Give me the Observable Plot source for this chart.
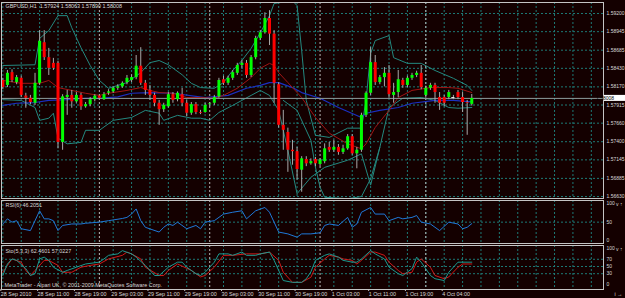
<!DOCTYPE html>
<html><head><meta charset="utf-8">
<script src="https://cdn.jsdelivr.net/npm/d3@7"></script>
<script src="https://cdn.jsdelivr.net/npm/@observablehq/plot@0.6"></script>
<style>
html,body{margin:0;padding:0;background:#140000;}
#chart{position:relative;width:625px;height:298px;background:#140000;overflow:hidden;}
#chart svg{position:absolute;left:0;}
</style></head><body><div id="chart"></div>
<script>
// ---- candle data (GBPUSD H1, bar index 0 = 28 Sep 03:00) ----
const barOpen = [1.5826,1.5819,1.5837,1.5823,1.5829,1.5804,1.5801,1.5794,1.5822,1.5879,
1.5858,1.5850,1.5850,1.5739,1.5802,1.5805,1.5796,1.5805,1.5789,1.5792,
1.5799,1.5804,1.5799,1.5808,1.5810,1.5815,1.5817,1.5823,1.5826,1.5830,
1.5846,1.5822,1.5812,1.5805,1.5794,1.5785,1.5789,1.5806,1.5799,1.5806,
1.5794,1.5780,1.5792,1.5781,1.5781,1.5792,1.5794,1.5803,1.5827,1.5822,
1.5829,1.5836,1.5847,1.5850,1.5833,1.5858,1.5885,1.5893,1.5913,1.5891,
1.5820,1.5763,1.5753,1.5728,1.5726,1.5700,1.5715,1.5709,1.5715,1.5708,
1.5712,1.5732,1.5728,1.5732,1.5725,1.5730,1.5747,1.5723,1.5728,1.5777,
1.5808,1.5851,1.5823,1.5830,1.5836,1.5805,1.5809,1.5826,1.5819,1.5829,
1.5833,1.5836,1.5805,1.5815,1.5819,1.5802,1.5802,1.5802,1.5802,1.5809,
1.5802,1.5795,1.57924];
const barHigh = [1.5829,1.5840,1.5841,1.5833,1.5832,1.5808,1.5805,1.5836,1.5896,1.5896,
1.5871,1.5857,1.5853,1.5806,1.5812,1.5812,1.5809,1.5808,1.5795,1.5802,
1.5806,1.5806,1.5809,1.5813,1.5817,1.5820,1.5824,1.5833,1.5834,1.5861,
1.5872,1.5826,1.5819,1.5808,1.5798,1.5794,1.5809,1.5809,1.5810,1.5815,
1.5798,1.5795,1.5795,1.5784,1.5794,1.5795,1.5805,1.5829,1.5832,1.5832,
1.5840,1.5850,1.5854,1.5854,1.5861,1.5888,1.5896,1.5921,1.5924,1.5896,
1.5823,1.5784,1.5759,1.5742,1.5732,1.5719,1.5719,1.5716,1.5718,1.5716,
1.5737,1.5739,1.5742,1.5736,1.5735,1.5750,1.5750,1.5732,1.5780,1.5810,
1.5872,1.5861,1.5833,1.5844,1.5847,1.5822,1.5840,1.5829,1.5832,1.5836,
1.5839,1.5847,1.5818,1.5822,1.5822,1.5809,1.5805,1.5812,1.5805,1.5812,
1.5809,1.5798,1.58063];
const barLow = [1.5813,1.5816,1.5823,1.5820,1.5802,1.5787,1.5792,1.5791,1.5819,1.5854,
1.5833,1.5840,1.5730,1.5728,1.5777,1.5787,1.5794,1.5784,1.5787,1.5789,
1.5796,1.5798,1.5798,1.5805,1.5808,1.5812,1.5815,1.5820,1.5823,1.5827,
1.5819,1.5805,1.5798,1.5789,1.5763,1.5781,1.5787,1.5794,1.5796,1.5789,
1.5775,1.5777,1.5778,1.5778,1.5780,1.5789,1.5791,1.5801,1.5819,1.5819,
1.5826,1.5833,1.5843,1.5829,1.5830,1.5855,1.5882,1.5891,1.5875,1.5794,
1.5759,1.5728,1.5697,1.5707,1.5686,1.5669,1.5705,1.5707,1.5705,1.5705,
1.5709,1.5725,1.5725,1.5721,1.5722,1.5728,1.5721,1.5702,1.5725,1.5774,
1.5805,1.5819,1.5820,1.5817,1.5801,1.5794,1.5802,1.5815,1.5816,1.5826,
1.5830,1.5813,1.5801,1.5812,1.5794,1.5784,1.5789,1.5799,1.5799,1.5799,
1.5781,1.5749,1.5790];
const barClose = [1.5816,1.5836,1.5826,1.5830,1.5805,1.5801,1.5795,1.5822,1.5881,1.5858,
1.5843,1.5843,1.5739,1.5803,1.5805,1.5796,1.5805,1.5789,1.5792,1.5799,
1.5804,1.5801,1.5806,1.5810,1.5815,1.5817,1.5822,1.5829,1.5830,1.5846,
1.5822,1.5812,1.5805,1.5794,1.5785,1.5791,1.5806,1.5798,1.5808,1.5794,
1.5780,1.5792,1.5781,1.5780,1.5791,1.5793,1.5802,1.5826,1.5822,1.5829,
1.5837,1.5847,1.5850,1.5833,1.5858,1.5885,1.5893,1.5913,1.5891,1.5822,
1.5763,1.5756,1.5728,1.5726,1.5701,1.5716,1.5709,1.5712,1.5709,1.5714,
1.5730,1.5728,1.5732,1.5725,1.5730,1.5747,1.5723,1.5728,1.5777,1.5808,
1.5851,1.5823,1.5830,1.5836,1.5806,1.5809,1.5827,1.5819,1.5829,1.5833,
1.5836,1.5816,1.5815,1.5819,1.5809,1.5794,1.5794,1.5809,1.5802,1.5802,
1.5795,1.5794,1.58008];

// ---- overlays (bar index, price) ----
const upperBars = [0,7,8,10,12,14,15,17,19,21,23,27,30,32,34,36,39,41,43,46,48,50,52,54,56,58,59,63,64,65,66,68,71,75,78,79,80,81,84,85,88,91,94,98,101,102];
const upperVals = [1.5847,1.5848,1.5885,1.5896,1.5917,1.5917,1.5900,1.5872,1.5847,1.5826,1.5815,1.5823,1.5837,1.5851,1.5854,1.5848,1.5834,1.5822,1.5816,1.5815,1.5823,1.5840,1.5854,1.5871,1.5893,1.5917,1.5934,1.5938,1.5931,1.5868,1.5798,1.5749,1.5746,1.5759,1.5759,1.5798,1.5864,1.5882,1.5889,1.5858,1.5850,1.5850,1.5840,1.5829,1.5819,1.5812];
const lowerBars = [0,4,7,8,10,11,12,14,17,18,21,24,28,31,34,35,38,41,43,45,47,50,52,54,56,58,60,62,64,67,70,75,78,80,82,84,87,91,94,97,99,102];
const lowerVals = [1.5799,1.5798,1.5788,1.5770,1.5773,1.5780,1.5745,1.5737,1.5739,1.5756,1.5756,1.5770,1.5774,1.5784,1.5780,1.5770,1.5777,1.5773,1.5773,1.5770,1.5781,1.5791,1.5798,1.5805,1.5812,1.5805,1.5784,1.5728,1.5667,1.5690,1.5704,1.5714,1.5723,1.5679,1.5732,1.5788,1.5801,1.5802,1.5798,1.5788,1.5787,1.5788];
const lowerLongBars = [61,64,67,68,69,70,75,78,80,82];
const lowerLongVals = [1.5798,1.5784,1.5742,1.5704,1.5676,1.5662,1.5660,1.5663,1.5688,1.5732];
const redMaBars = [0,4,8,10,12,15,18,21,23,27,30,32,34,37,40,43,46,48,51,54,56,58,59,60,62,65,68,71,75,78,79,81,84,86,89,93,97,99,102];
const redMaVals = [1.5826,1.5822,1.5822,1.5826,1.5816,1.5812,1.5808,1.5805,1.5808,1.5812,1.5816,1.5812,1.5809,1.5808,1.5802,1.5802,1.5801,1.5805,1.5815,1.5830,1.5843,1.5850,1.5847,1.5837,1.5823,1.5802,1.5774,1.5752,1.5737,1.5730,1.5737,1.5760,1.5784,1.5802,1.5812,1.5816,1.5816,1.5815,1.5809];
const blueMaBars = [0,3,7,10,14,18,21,25,28,32,37,44,49,53,56,58,60,63,65,69,73,78,79,82,86,89,94,98,102];
const blueMaVals = [1.5791,1.5794,1.5795,1.5798,1.5799,1.5801,1.5801,1.5803,1.5808,1.5809,1.5808,1.5802,1.5805,1.5815,1.5819,1.5823,1.5823,1.5816,1.5809,1.5801,1.5788,1.5774,1.5780,1.5784,1.5788,1.5794,1.5798,1.5798,1.5796];

// ---- oscillators ----
const rsiBars = [0,1,2,3,4,6,8,9,10,11,12,13,15,17,18,21,23,26,27,28,29,30,31,34,35,36,37,38,40,42,43,44,46,48,50,52,53,55,57,58,60,62,64,65,67,69,70,71,73,75,76,77,78,80,81,83,84,86,87,89,90,91,93,95,97,99,100,101,102];
const rsiVals = [45,59,50,54,32,27,81,59,59,54,27,41,45,45,47,50,54,60,63,72,86,54,36,23,36,45,41,50,32,41,32,50,54,72,77,81,59,81,90,77,23,18,9,18,18,21,41,45,41,63,36,45,77,90,72,72,54,63,59,63,68,50,45,27,50,45,32,36,46];
const stoMainBars = [0,1,2,3,5,6,7,8,9,10,11,13,14,16,18,21,22,23,25,26,28,29,31,33,34,36,38,39,40,42,43,44,46,47,49,50,52,53,55,56,58,59,60,61,63,65,66,67,68,70,71,73,74,76,77,78,80,81,83,84,86,87,89,90,91,93,94,96,97,99,100,102];
const stoMainVals = [25,57,71,67,44,25,30,71,76,67,48,34,39,48,57,62,71,81,85,94,85,76,53,25,25,48,62,62,48,30,25,34,62,85,85,81,90,81,81,85,90,67,39,11,6,6,16,35,67,81,85,76,67,62,62,71,94,85,71,48,30,25,44,76,62,25,16,11,34,62,62,62];
const stoSigBars = [0,1,2,4,5,6,7,9,10,12,13,15,17,19,21,23,26,27,28,30,31,34,35,36,38,41,43,44,46,48,50,53,56,58,60,61,63,65,67,68,70,71,73,74,76,77,78,80,81,83,84,86,87,89,90,91,93,94,96,97,99,100,102];
const stoSigVals = [34,53,71,62,39,25,39,67,67,53,34,34,48,53,57,71,81,90,85,71,48,25,25,39,57,39,21,25,48,81,81,85,85,90,67,34,6,6,20,48,71,81,76,71,67,57,67,90,90,81,62,39,30,34,62,71,48,25,16,21,48,57,57];

// ---- axes / labels ----
const priceTicks = [1.59200,1.58945,1.58685,1.58430,1.58170,1.57915,1.57660,1.57400,1.57145,1.56885,1.56630];
const timeLabels = ["28 Sep 2010","28 Sep 11:00","28 Sep 19:00","29 Sep 03:00","29 Sep 11:00","29 Sep 19:00","30 Sep 03:00","30 Sep 11:00","30 Sep 19:00","1 Oct 03:00","1 Oct 11:00","1 Oct 19:00","4 Oct 04:00"];
const timeBars = [0,8,16,24,32,40,48,56,64,72,80,88,96];
const daySepBars = [21,45,69,92];
const rsiTicks = [100,50,0];
const stoTicks = [100,70,50,30,0];
const titleText = "GBPUSD,H1  1.57924 1.58063 1.57890 1.58008";
const lastClose = 1.58008;

// ---- build ----
const bars = barOpen.map((o,i)=>({i, open:o, high:barHigh[i], low:barLow[i], close:barClose[i]}));
const pts = (b,v)=>b.map((x,k)=>({i:x, v:v[k]}));
const XD = [-0.29, 130.65];
const gridBars = d3.range(0, 131, 4);
const FONT = "Liberation Sans, Arial, sans-serif";
const TXT = "#d8d8d8", GRID = "#1d7a76", SEP = "#b8b8b8", FRAME = "#c4c4c4", BAND = "#23887f";
const base = (h, mt, mb) => ({width:625, height:h, marginLeft:1, marginRight:22, marginTop:mt, marginBottom:mb,
  style:{background:"transparent", color:TXT, fontFamily:FONT, fontSize:"5px", overflow:"visible"},
  x:{domain:XD, axis:null}});
const vgrid = () => [
  Plot.ruleX(gridBars, {stroke:GRID, strokeDasharray:"2,2", strokeWidth:1}),
  Plot.ruleX(daySepBars, {stroke:SEP, strokeDasharray:"2,2", strokeWidth:1})
];

const main = Plot.plot({
  ...base(199, 2, 1),
  y:{domain:[1.566026, 1.593544], axis:null},
  marks:[
    Plot.ruleY(priceTicks, {stroke:GRID, strokeDasharray:"2,2"}),
    ...vgrid(),
    Plot.line(pts(upperBars, upperVals), {x:"i", y:"v", stroke:BAND, strokeWidth:1, clip:true}),
    Plot.line(pts(lowerBars, lowerVals), {x:"i", y:"v", stroke:BAND, strokeWidth:1, clip:true}),
    Plot.line(pts(lowerLongBars, lowerLongVals), {x:"i", y:"v", stroke:BAND, strokeWidth:1, clip:true}),
    Plot.line(pts(blueMaBars, blueMaVals), {x:"i", y:"v", stroke:"#1a2fc0", strokeWidth:1.2, clip:true}),
    Plot.line(pts(redMaBars, redMaVals), {x:"i", y:"v", stroke:"#a01414", strokeWidth:1, clip:true}),
    Plot.ruleY([lastClose], {stroke:"#8c9c9c", strokeWidth:1}),
    Plot.ruleX(bars, {x:"i", y1:"low", y2:"high", stroke:"#a8a8a8", strokeWidth:1, clip:true}),
    Plot.ruleX(bars.filter(d=>d.close>=d.open), {x:"i", y1:"open", y2:"close", stroke:"#00ff00", strokeWidth:3}),
    Plot.ruleX(bars.filter(d=>d.close<d.open), {x:"i", y1:"open", y2:"close", stroke:"#ff0000", strokeWidth:3}),
    Plot.ruleY(bars.filter(d=>Math.abs(d.close-d.open)<0.00008), {y:"close", x1:d=>d.i-0.35, x2:d=>d.i+0.35, stroke:"#e8e8e8"}),
    Plot.axisY({anchor:"right", ticks:priceTicks, tickFormat:d3.format(".5f"), tickSize:0, tickPadding:3, fill:TXT}),
    Plot.frame({stroke:FRAME}),
    Plot.text([titleText], {frameAnchor:"top-left", dx:4, dy:2, textAnchor:"start", lineAnchor:"top", fill:TXT, fontSize:5.4})
  ]
});
main.style.top = "0px";

const rsi = Plot.plot({
  ...base(45, 1, 1),
  y:{domain:[-8.2, 109], axis:null},
  marks:[
    Plot.ruleY([50], {stroke:GRID, strokeDasharray:"2,2"}),
    ...vgrid(),
    Plot.line(pts(rsiBars, rsiVals), {x:"i", y:"v", stroke:"#1f78d8", strokeWidth:1}),
    Plot.axisY({anchor:"right", ticks:rsiTicks, tickSize:0, tickPadding:3, fill:TXT}),
    Plot.frame({stroke:FRAME}),
    Plot.text(["RSI(6) 46.2051"], {frameAnchor:"top-left", dx:4, dy:3, textAnchor:"start", lineAnchor:"top", fill:TXT, fontSize:5.4})
  ]
});
rsi.style.top = "199px";

const sto = Plot.plot({
  ...base(54, 1, 9),
  y:{domain:[-13.9, 108.3], axis:null},
  marks:[
    Plot.ruleY([70,50,30], {stroke:GRID, strokeDasharray:"2,2"}),
    ...vgrid(),
    Plot.line(pts(stoSigBars, stoSigVals), {x:"i", y:"v", stroke:"#d01818", strokeWidth:1}),
    Plot.line(pts(stoMainBars, stoMainVals), {x:"i", y:"v", stroke:"#1a9a90", strokeWidth:1}),
    Plot.axisY({anchor:"right", ticks:stoTicks, tickSize:0, tickPadding:3, fill:TXT}),
    Plot.axisX({anchor:"bottom", ticks:timeBars, tickFormat:d=>timeLabels[timeBars.indexOf(d)], tickSize:2, tickPadding:1, textAnchor:"start", dx:-2, fill:TXT, stroke:FRAME, fontSize:5.4}),
    Plot.frame({stroke:FRAME}),
    Plot.text(["Sto(5,3,3) 62.4601 57.0227"], {frameAnchor:"top-left", dx:4, dy:4, textAnchor:"start", lineAnchor:"top", fill:TXT, fontSize:5.4}),
    Plot.text(["MetaTrader - Alpari UK, © 2001-2009 MetaQuotes Software Corp."], {frameAnchor:"bottom-left", dx:3, dy:-3, textAnchor:"start", lineAnchor:"bottom", fill:TXT, fontSize:5.4})
  ]
});
sto.style.top = "244px";

const host = document.getElementById("chart");
host.append(main, rsi, sto);

// current price marker box using the main y scale
const ys = main.scale("y");
const yy = ys.apply(lastClose);
const svg = d3.select(main);
svg.append("rect").attr("x", 604).attr("y", yy - 3).attr("width", 21).attr("height", 6).attr("fill", "#ffffff");
svg.append("text").attr("x", 605).attr("y", yy).attr("dy", "0.35em").attr("fill", "#000").attr("font-family", FONT).attr("font-size", "5px").text(d3.format(".5f")(lastClose));
</script></body></html>
